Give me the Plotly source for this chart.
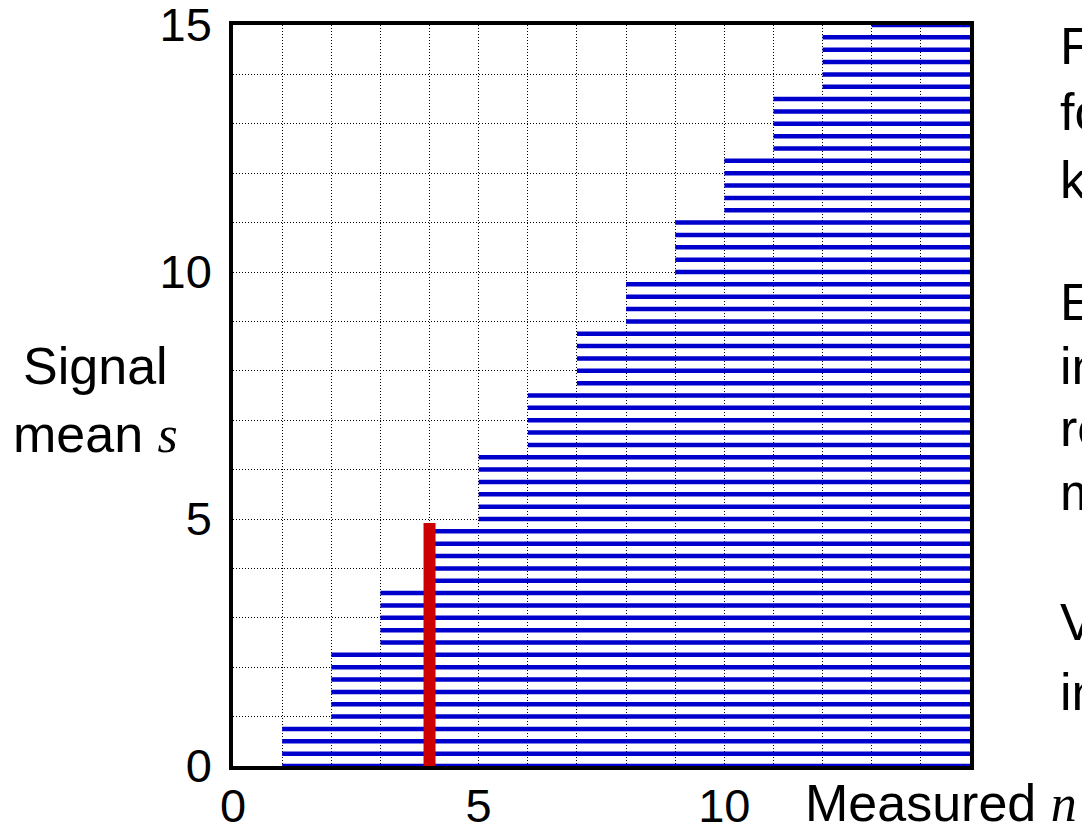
import plotly.graph_objects as go

# ---------------- data ----------------
# signal mean s for every horizontal acceptance line
s_values = [0.0, 0.25, 0.5, 0.75,
            1.0, 1.25, 1.5, 1.75, 2.0, 2.25,
            2.5, 2.75, 3.0, 3.25, 3.5,
            3.75, 4.0, 4.25, 4.5, 4.75,
            5.0, 5.25, 5.5, 5.75, 6.0, 6.25,
            6.5, 6.75, 7.0, 7.25, 7.5,
            7.75, 8.0, 8.25, 8.5, 8.75,
            9.0, 9.25, 9.5, 9.75,
            10.0, 10.25, 10.5, 10.75, 11.0,
            11.25, 11.5, 11.75, 12.0, 12.25,
            12.5, 12.75, 13.0, 13.25, 13.5,
            13.75, 14.0, 14.25, 14.5, 14.75,
            15.0]
# smallest measured n in the acceptance region for each s
n_start = [1, 1, 1, 1,
           2, 2, 2, 2, 2, 2,
           3, 3, 3, 3, 3,
           4, 4, 4, 4, 4,
           5, 5, 5, 5, 5, 5,
           6, 6, 6, 6, 6,
           7, 7, 7, 7, 7,
           8, 8, 8, 8,
           9, 9, 9, 9, 9,
           10, 10, 10, 10, 10,
           11, 11, 11, 11, 11,
           12, 12, 12, 12, 12,
           13]
n_end = 15

# observed n and the resulting interval (red)
observed_n = 4
interval_low = 0.0
interval_high = 4.92

x_tick_vals = [0, 5, 10]
x_tick_text = ["0", "5", "10"]
y_tick_vals = [0, 5, 10, 15]
y_tick_text = ["0", "5", "10", "15"]

side_text = ["F", "fo", "k", "E", "in", "re", "m", "V", "in"]
side_text_ypx = [46, 112, 180, 302, 366, 428, 492, 622, 692]

# ---------------- figure ----------------
bx, by = [], []
for s, n0 in zip(s_values, n_start):
    bx += [n0, n_end, None]
    by += [s, s, None]

fig = go.Figure()
fig.add_trace(go.Scatter(x=bx, y=by, mode="lines",
                         line=dict(color="#0000CC", width=4.5),
                         hoverinfo="skip", showlegend=False))
fig.add_trace(go.Scatter(x=[observed_n, observed_n], y=[interval_low, interval_high],
                         mode="lines", line=dict(color="#CC0000", width=12),
                         hoverinfo="skip", showlegend=False))

FONT = "Arial, Liberation Sans, sans-serif"
SERIF = "Liberation Serif, Times New Roman, serif"
grid = dict(showgrid=True, gridcolor="black", griddash="1px,2px", gridwidth=1)

W, H = 1082, 830
ML, MR, MT, MB = 233, 112, 25, 64
PW, PH = W - ML - MR, H - MT - MB

def px_x(xp):
    return (xp - ML) / PW

def px_y(yp):
    return (H - MB - yp) / PH

axis_common = dict(range=[0, 15], showline=True, linecolor="black", linewidth=3.5,
                   mirror=True, zeroline=False, ticks="", layer="below traces",
                   automargin=False, ticklabeloverflow="allow",
                   tickfont=dict(family=FONT, size=47, color="black"),
                   **grid)

fig.update_layout(
    width=W, height=H,
    margin=dict(l=ML, r=MR, t=MT, b=MB, pad=0, autoexpand=False),
    paper_bgcolor="white", plot_bgcolor="white",
    font=dict(family=FONT, color="black"),
    showlegend=False,
    xaxis=dict(tickvals=x_tick_vals, ticktext=x_tick_text, ticklabelstandoff=-4,
               minor=dict(tick0=0, dtick=1, ticks="", **grid), **axis_common),
    yaxis=dict(tickvals=y_tick_vals, ticktext=y_tick_text, ticklabelstandoff=8,
               minor=dict(tick0=0, dtick=1, ticks="", **grid), **axis_common),
)

annotations = [
    dict(text=f"Signal<br>mean <span style='font-family:{SERIF}'><i>s</i></span>",
         xref="paper", yref="paper", x=px_x(95), y=px_y(400),
         xanchor="center", yanchor="middle", align="center", showarrow=False,
         font=dict(family=FONT, size=52, color="black")),
    dict(text=f"Measured <span style='font-family:{SERIF}'><i>n</i></span>",
         xref="paper", yref="paper", x=px_x(803), y=px_y(803),
         xanchor="left", yanchor="middle", showarrow=False,
         font=dict(family=FONT, size=52, color="black")),
]
for t, yp in zip(side_text, side_text_ypx):
    annotations.append(dict(text=t, xref="paper", yref="paper", x=px_x(1058), y=px_y(yp),
                            xanchor="left", yanchor="middle", showarrow=False,
                            font=dict(family=FONT, size=52, color="black")))
fig.update_layout(annotations=annotations)

fig.write_html("out.html")
